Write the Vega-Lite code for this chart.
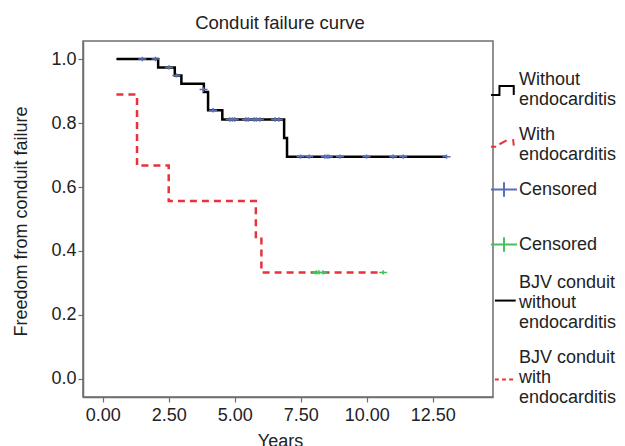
{
  "$schema": "https://vega.github.io/schema/vega-lite/v6.json",
  "autosize": "none",
  "width": 410,
  "height": 356,
  "padding": {"left": 83, "top": 41, "right": 132, "bottom": 49},
  "background": "white",
  "config": {
    "font": "Liberation Sans",
    "view": {"stroke": "#6e6e6e", "strokeWidth": 1.5},
    "axis": {
      "grid": false,
      "domainColor": "#6e6e6e",
      "domainWidth": 1.5,
      "tickColor": "#6e6e6e",
      "tickWidth": 1.2,
      "tickSize": 5,
      "labelFont": "Liberation Sans",
      "labelFontSize": 18,
      "labelColor": "#222222",
      "titleFont": "Liberation Sans",
      "titleFontSize": 18,
      "titleFontWeight": "normal",
      "titleColor": "#222222"
    },
    "legend": {
      "labelFont": "Liberation Sans",
      "labelFontSize": 18,
      "labelColor": "#222222"
    }
  },
  "title": {
    "text": "Conduit failure curve",
    "font": "Liberation Sans",
    "fontSize": 18.5,
    "fontWeight": "normal",
    "color": "#222222",
    "anchor": "middle",
    "dx": -8,
    "offset": 9
  },
  "data": {
    "values": [
      {"t": 0.52, "s": 1.0, "series": "Without endocarditis"},
      {"t": 2.1, "s": 0.974, "series": "Without endocarditis"},
      {"t": 2.73, "s": 0.949, "series": "Without endocarditis"},
      {"t": 2.98, "s": 0.923, "series": "Without endocarditis"},
      {"t": 3.83, "s": 0.897, "series": "Without endocarditis"},
      {"t": 3.99, "s": 0.84, "series": "Without endocarditis"},
      {"t": 4.53, "s": 0.811, "series": "Without endocarditis"},
      {"t": 6.87, "s": 0.753, "series": "Without endocarditis"},
      {"t": 6.98, "s": 0.695, "series": "Without endocarditis"},
      {"t": 13.02, "s": 0.695, "series": "Without endocarditis"},
      {"t": 0.52, "s": 0.889, "series": "With endocarditis"},
      {"t": 1.3, "s": 0.667, "series": "With endocarditis"},
      {"t": 2.5, "s": 0.556, "series": "With endocarditis"},
      {"t": 5.8, "s": 0.444, "series": "With endocarditis"},
      {"t": 6.01, "s": 0.333, "series": "With endocarditis"},
      {"t": 10.62, "s": 0.333, "series": "With endocarditis"},
      {"t": 1.5, "s": 1.0, "series": "Censored without"},
      {"t": 2.0, "s": 1.0, "series": "Censored without"},
      {"t": 2.51, "s": 0.974, "series": "Censored without"},
      {"t": 2.79, "s": 0.949, "series": "Censored without"},
      {"t": 3.82, "s": 0.905, "series": "Censored without"},
      {"t": 4.18, "s": 0.84, "series": "Censored without"},
      {"t": 4.81, "s": 0.811, "series": "Censored without"},
      {"t": 4.91, "s": 0.811, "series": "Censored without"},
      {"t": 5.0, "s": 0.811, "series": "Censored without"},
      {"t": 5.42, "s": 0.811, "series": "Censored without"},
      {"t": 5.51, "s": 0.811, "series": "Censored without"},
      {"t": 5.73, "s": 0.811, "series": "Censored without"},
      {"t": 5.82, "s": 0.811, "series": "Censored without"},
      {"t": 5.95, "s": 0.811, "series": "Censored without"},
      {"t": 6.52, "s": 0.811, "series": "Censored without"},
      {"t": 6.67, "s": 0.811, "series": "Censored without"},
      {"t": 7.49, "s": 0.695, "series": "Censored without"},
      {"t": 7.82, "s": 0.695, "series": "Censored without"},
      {"t": 8.41, "s": 0.695, "series": "Censored without"},
      {"t": 8.5, "s": 0.695, "series": "Censored without"},
      {"t": 8.57, "s": 0.695, "series": "Censored without"},
      {"t": 8.98, "s": 0.695, "series": "Censored without"},
      {"t": 9.99, "s": 0.695, "series": "Censored without"},
      {"t": 11.0, "s": 0.695, "series": "Censored without"},
      {"t": 11.38, "s": 0.695, "series": "Censored without"},
      {"t": 13.02, "s": 0.695, "series": "Censored without"},
      {"t": 8.09, "s": 0.333, "series": "Censored with"},
      {"t": 8.19, "s": 0.333, "series": "Censored with"},
      {"t": 8.34, "s": 0.333, "series": "Censored with"},
      {"t": 10.62, "s": 0.333, "series": "Censored with"}
    ]
  },
  "encoding": {
    "x": {
      "field": "t",
      "type": "quantitative",
      "scale": {"domain": [-0.746, 14.78], "nice": false, "zero": false},
      "axis": {
        "title": "Years",
        "values": [0, 2.5, 5, 7.5, 10, 12.5],
        "format": ".2f",
        "labelPadding": 4,
        "titleX": 197,
        "titleY": 49,
        "titleBaseline": "alphabetic",
        "titleAlign": "center",
        "titleAnchor": null
      }
    },
    "y": {
      "field": "s",
      "type": "quantitative",
      "scale": {"domain": [-0.0565, 1.0565], "nice": false, "zero": false},
      "axis": {
        "title": "Freedom from conduit failure",
        "values": [0, 0.2, 0.4, 0.6, 0.8, 1.0],
        "format": ".1f",
        "labelPadding": 2,
        "titleX": -62,
        "titleY": 180,
        "titleAngle": -90,
        "titleBaseline": "middle",
        "titleAlign": "center"
      }
    }
  },
  "layer": [
    {
      "transform": [{"filter": "datum.series === 'Without endocarditis'"}],
      "mark": {"type": "line", "interpolate": "step-after", "color": "#000000", "strokeWidth": 2.5}
    },
    {
      "transform": [{"filter": "datum.series === 'With endocarditis'"}],
      "mark": {"type": "line", "interpolate": "step-after", "color": "#e8323c", "strokeWidth": 2.5, "strokeDash": [7, 5]}
    },
    {
      "transform": [{"filter": "indexof(datum.series, 'Censored') === 0"}],
      "mark": {"type": "point", "filled": false, "size": 64, "strokeWidth": 1.5, "opacity": 1},
      "encoding": {
        "color": {
          "field": "series",
          "type": "nominal",
          "scale": {
            "domain": ["Without endocarditis", "With endocarditis", "Censored without", "Censored with", "BJV conduit without endocarditis", "BJV conduit with endocarditis"],
            "range": ["#000000", "#e8323c", "#5a6fba", "#45c05c", "#000000", "#e8323c"]
          },
          "legend": {
            "title": null,
            "orient": "none",
            "legendX": 407,
            "legendY": 24.5,
            "padding": 0,
            "gridAlign": "each",
            "rowPadding": 12,
            "symbolSize": 676,
            "symbolStrokeWidth": 2,
            "labelOffset": 1,
            "labelLimit": 0,
            "labelExpr": "datum.label === 'Without endocarditis' ? ['Without', 'endocarditis'] : datum.label === 'With endocarditis' ? ['With', 'endocarditis'] : datum.label === 'Censored without' ? ['Censored', ''] : datum.label === 'Censored with' ? 'Censored' : datum.label === 'BJV conduit without endocarditis' ? ['BJV conduit', 'without', 'endocarditis'] : ['BJV conduit', 'with', 'endocarditis']"
          }
        },
        "shape": {
          "field": "series",
          "type": "nominal",
          "scale": {
            "domain": ["Without endocarditis", "With endocarditis", "Censored without", "Censored with", "BJV conduit without endocarditis", "BJV conduit with endocarditis"],
            "range": [
              "M-1,1.2L-0.35,1.2L-0.35,0.5L0.75,0.5L0.75,1.2",
              "M-1,0.95L-0.6,0.95M-0.35,0.75L0.2,0.45M0.7,0.35L0.75,0.85",
              "M-1,0L1,0M0,-0.55L0,0.55",
              "M-1,0L1,0M0,-0.55L0,0.55",
              "M-0.7,1.39L0.9,1.39",
              "M-0.7,1.7L-0.4,1.7M-0.15,1.7L0.15,1.7M0.4,1.7L0.7,1.7"
            ]
          },
          "legend": {
            "title": null,
            "orient": "none",
            "legendX": 407,
            "legendY": 24.5,
            "padding": 0,
            "gridAlign": "each",
            "rowPadding": 12,
            "symbolSize": 676,
            "symbolStrokeWidth": 2,
            "labelOffset": 1,
            "labelLimit": 0,
            "labelExpr": "datum.label === 'Without endocarditis' ? ['Without', 'endocarditis'] : datum.label === 'With endocarditis' ? ['With', 'endocarditis'] : datum.label === 'Censored without' ? ['Censored', ''] : datum.label === 'Censored with' ? 'Censored' : datum.label === 'BJV conduit without endocarditis' ? ['BJV conduit', 'without', 'endocarditis'] : ['BJV conduit', 'with', 'endocarditis']"
          }
        }
      }
    }
  ]
}
